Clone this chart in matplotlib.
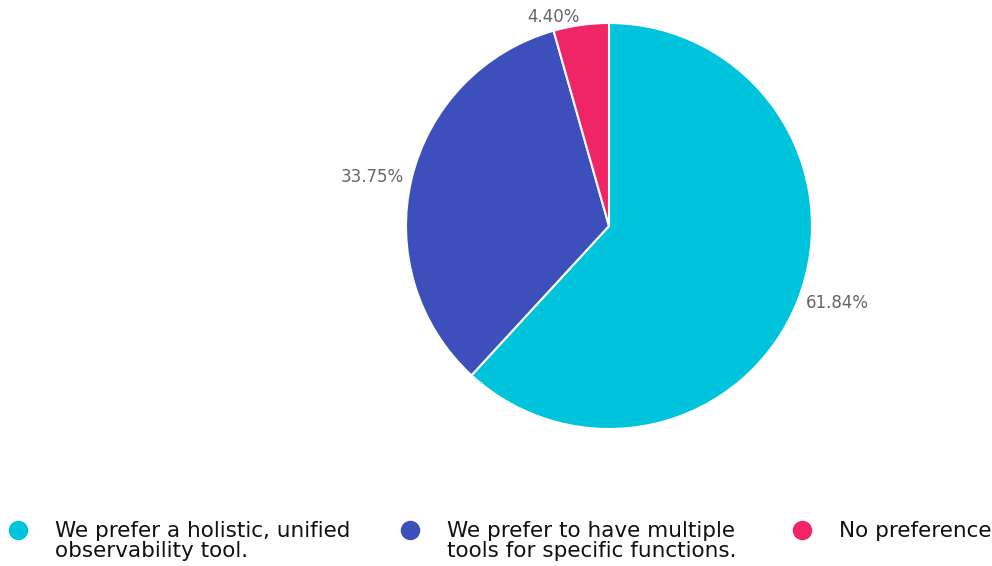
import numpy as np
import matplotlib.pyplot as plt

plt.rcParams['font.family'] = ['DejaVu Sans']

labels = ["We prefer a holistic, unified\nobservability tool.",
          "We prefer to have multiple\ntools for specific functions.",
          "No preference"]
values = [61.84, 33.75, 4.40]
colors = ["#00C3DC", "#3D4FBA", "#EF2566"]

fig = plt.figure(figsize=(9.92, 5.66), dpi=100)

# pie axes: centre at (609, 226) px, radius ~203 px
cx, cy, r = 609, 226, 203
ax = fig.add_axes([(cx - r) / 992, 1 - (cy + r) / 566, 2 * r / 992, 2 * r / 566])
wedges, _ = ax.pie(values, colors=colors, startangle=90, counterclock=False,
                   wedgeprops=dict(edgecolor="white", linewidth=1.5))
ax.set_xlim(-1, 1)
ax.set_ylim(-1, 1)
ax.set_aspect("auto")

for w, v in zip(wedges, values):
    ang = np.deg2rad((w.theta1 + w.theta2) / 2)
    x, y = 1.04 * np.cos(ang), 1.04 * np.sin(ang)
    ha = "left" if x > 0 else "right"
    ax.text(x, y, f"{v:.2f}%", ha=ha, va="center", fontsize=12, color="#666666")

# legend along the bottom
lx = [18, 410, 802]
for x, lab, col in zip(lx, labels, colors):
    fig.add_artist(plt.Line2D([x / 992], [1 - 530 / 566], marker="o", markersize=13,
                              color=col, transform=fig.transFigure))
    fig.text((x + 37) / 992, 1 - 521 / 566, lab, ha="left", va="top",
             fontsize=15.5, color="#111111", linespacing=1.0)

fig.savefig("out.png", dpi=100)
